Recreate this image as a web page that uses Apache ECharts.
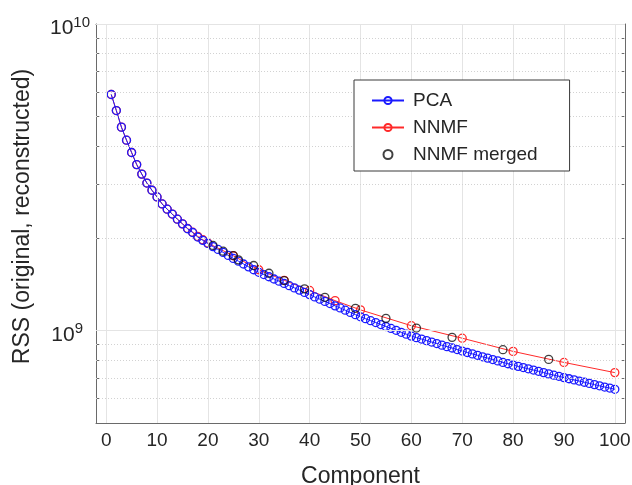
<!DOCTYPE html>
<html>
<head>
<meta charset="utf-8">
<script src="https://cdn.jsdelivr.net/npm/echarts@6/dist/echarts.min.js"></script>
<style>
  html, body { margin: 0; padding: 0; background: #fff; }
  #chart { width: 632px; height: 485px; }
</style>
</head>
<body>
<div id="chart"></div>
<script>
// ---- data ----
var pcaRSS = [
  5.89e9, 5.22e9, 4.61e9, 4.18e9, 3.81e9, 3.48e9, 3.24e9, 3.03e9, 2.87e9, 2.73e9,
  2.59e9, 2.49e9, 2.40e9, 2.31e9, 2.23e9, 2.15e9, 2.09e9, 2.02e9, 1.97e9, 1.925e9,
  1.88e9, 1.84e9, 1.80e9, 1.76e9, 1.72e9, 1.685e9, 1.65e9, 1.615e9, 1.58e9, 1.55e9,
  1.524e9, 1.499e9, 1.474e9, 1.45e9, 1.426e9, 1.402e9, 1.379e9, 1.356e9, 1.333e9, 1.311e9,
  1.288e9, 1.267e9, 1.246e9, 1.226e9, 1.205e9, 1.186e9, 1.166e9, 1.147e9, 1.128e9, 1.11e9,
  1.094e9, 1.078e9, 1.063e9, 1.047e9, 1.032e9, 1.017e9, 1.003e9, 9.88e8, 9.74e8, 9.60e8,
  9.49e8, 9.39e8, 9.28e8, 9.18e8, 9.08e8, 8.97e8, 8.87e8, 8.78e8, 8.68e8, 8.58e8,
  8.49e8, 8.40e8, 8.31e8, 8.22e8, 8.14e8, 8.05e8, 7.97e8, 7.88e8, 7.80e8, 7.72e8,
  7.65e8, 7.58e8, 7.51e8, 7.44e8, 7.37e8, 7.30e8, 7.23e8, 7.16e8, 7.10e8, 7.03e8,
  6.97e8, 6.91e8, 6.85e8, 6.79e8, 6.73e8, 6.67e8, 6.61e8, 6.55e8, 6.50e8, 6.44e8
];
var nnmfComp = [1,2,3,4,5,6,7,8,9,10,11,12,13,14,15,16,17,18,19,20,25,30,35,40,45,50,60,70,80,90,100];
var nnmfRSS = [
  5.89e9, 5.22e9, 4.61e9, 4.18e9, 3.81e9, 3.48e9, 3.24e9, 3.03e9, 2.87e9, 2.73e9,
  2.59e9, 2.49e9, 2.40e9, 2.31e9, 2.23e9, 2.155e9, 2.095e9, 2.03e9, 1.98e9, 1.93e9,
  1.755e9, 1.58e9, 1.46e9, 1.353e9, 1.253e9, 1.169e9, 1.038e9, 9.45e8, 8.56e8, 7.88e8, 7.30e8
];
var mergedComp = [21, 23, 25, 26, 29, 32, 35, 39, 43, 49, 55, 61, 68, 78, 87];
var mergedRSS = [1.896e9, 1.816e9, 1.758e9, 1.702e9, 1.631e9, 1.539e9, 1.457e9, 1.369e9,
                 1.285e9, 1.183e9, 1.097e9, 1.020e9, 9.51e8, 8.67e8, 8.06e8];
var xTicks = [0, 10, 20, 30, 40, 50, 60, 70, 80, 90, 100];
var yMajorTicks = [1e9, 1e10];
var yMinorTicks = [6e8, 7e8, 8e8, 9e8, 2e9, 3e9, 4e9, 5e9, 6e9, 7e9, 8e9, 9e9];
var seriesNames = ['PCA', 'NNMF', 'NNMF merged'];

// ---- chart ----
var FONT = "'Liberation Sans', Arial, Helvetica, sans-serif";
var AXIS_COLOR = '#6a6a6a';
var TEXT_COLOR = '#262626';
var allYTicks = yMinorTicks.concat(yMajorTicks, [5e8]).sort(function (a, b) { return a - b; });

var chart = echarts.init(document.getElementById('chart'), null, { renderer: 'canvas' });

function zipPairs(xs, ys) { return xs.map(function (x, i) { return [x, ys[i]]; }); }

var gridLines = [];
xTicks.forEach(function (v) { gridLines.push({ xAxis: v, lineStyle: { color: '#e4e4e4', type: 'solid', width: 1 } }); });
yMajorTicks.forEach(function (v) { gridLines.push({ yAxis: v, lineStyle: { color: '#e4e4e4', type: 'solid', width: 1 } }); });
yMinorTicks.forEach(function (v) { gridLines.push({ yAxis: v, lineStyle: { color: '#d2d2d2', type: [1, 2], width: 1 } }); });

var option = {
  animation: false,
  backgroundColor: '#ffffff',
  textStyle: { fontFamily: FONT },
  grid: { left: 96, top: 24, right: 7, bottom: 62, containLabel: false, outerBoundsMode: 'none' },
  legend: {
    data: seriesNames,
    orient: 'vertical',
    left: 354, top: 80,
    itemWidth: 32, itemHeight: 9, itemGap: 8,
    padding: [11, 32, 7, 17],
    backgroundColor: '#ffffff',
    borderColor: '#3a3a3a', borderWidth: 1, borderRadius: 0,
    textStyle: { fontSize: 19, color: TEXT_COLOR, fontFamily: FONT, padding: [0, 0, 0, 4] },
    z: 10
  },
  xAxis: [{
    type: 'value', min: -2, max: 102, position: 'bottom',
    name: 'Component', nameLocation: 'middle', nameGap: 42,
    nameTextStyle: { fontSize: 23, color: TEXT_COLOR, fontFamily: FONT },
    axisLine: { show: true, onZero: false, lineStyle: { color: AXIS_COLOR, width: 1 } },
    axisTick: { show: true, inside: true, length: 5, customValues: xTicks, lineStyle: { color: AXIS_COLOR } },
    axisLabel: { show: true, customValues: xTicks, margin: 8, fontSize: 19, color: TEXT_COLOR, fontFamily: FONT },
    splitLine: { show: false }
  }, {
    type: 'value', min: -2, max: 102, position: 'top',
    axisLine: { show: true, onZero: false, lineStyle: { color: AXIS_COLOR, width: 1 } },
    axisTick: { show: true, inside: true, length: 5, customValues: xTicks, lineStyle: { color: AXIS_COLOR } },
    axisLabel: { show: false },
    splitLine: { show: false }
  }],
  yAxis: [{
    type: 'log', logBase: 10, min: 5e8, max: 1e10, position: 'left',
    name: 'RSS (original, reconstructed)', nameLocation: 'middle', nameGap: 62,
    nameTextStyle: { fontSize: 23, color: TEXT_COLOR, fontFamily: FONT, padding: [0, 0, 0, 14] },
    axisLine: { show: true, onZero: false, lineStyle: { color: AXIS_COLOR, width: 1 } },
    axisTick: { show: true, inside: true, length: 4, customValues: allYTicks, lineStyle: { color: AXIS_COLOR } },
    axisLabel: {
      show: true, customValues: yMajorTicks, margin: 6, color: TEXT_COLOR, fontFamily: FONT,
      padding: [6, 0, 0, 0],
      formatter: function (val) {
        var e = Math.round(Math.log(val) / Math.LN10);
        return '{b|10}' + (e < 10 ? '{s1|' : '{s|') + e + '}';
      },
      rich: {
        b: { fontSize: 21, color: TEXT_COLOR, fontFamily: FONT, lineHeight: 24, verticalAlign: 'bottom' },
        s: { fontSize: 15, color: TEXT_COLOR, fontFamily: FONT, lineHeight: 17, verticalAlign: 'top' },
        s1: { fontSize: 15, color: TEXT_COLOR, fontFamily: FONT, lineHeight: 17, verticalAlign: 'top', padding: [0, 7, 0, 0] }
      }
    },
    splitLine: { show: false }
  }, {
    type: 'log', logBase: 10, min: 5e8, max: 1e10, position: 'right',
    axisLine: { show: true, onZero: false, lineStyle: { color: AXIS_COLOR, width: 1 } },
    axisTick: { show: true, inside: true, length: 4, customValues: allYTicks, lineStyle: { color: AXIS_COLOR } },
    axisLabel: { show: false },
    splitLine: { show: false }
  }],
  series: [{
    name: 'gridlines', type: 'line', data: [], z: 0, silent: true,
    markLine: { silent: true, symbol: ['none', 'none'], label: { show: false }, animation: false, data: gridLines }
  }, {
    name: 'NNMF', type: 'line', z: 3,
    data: zipPairs(nnmfComp, nnmfRSS),
    symbol: 'circle', symbolSize: 8,
    itemStyle: { color: 'rgba(255,255,255,0)', borderColor: '#ff2a2a', borderWidth: 1.3 },
    lineStyle: { color: '#ff2a2a', width: 1 },
    emphasis: { disabled: true }
  }, {
    name: 'PCA', type: 'line', z: 4,
    data: pcaRSS.map(function (v, i) { return [i + 1, v]; }),
    symbol: 'circle', symbolSize: 8,
    itemStyle: { color: 'rgba(255,255,255,0)', borderColor: '#1a1aff', borderWidth: 1.3 },
    lineStyle: { color: '#1a1aff', width: 1 },
    emphasis: { disabled: true }
  }, {
    name: 'NNMF merged', type: 'scatter', z: 5,
    data: zipPairs(mergedComp, mergedRSS),
    symbol: 'circle', symbolSize: 8,
    itemStyle: { color: 'rgba(255,255,255,0)', borderColor: '#111111', borderWidth: 1.3 },
    emphasis: { disabled: true }
  }]
};
chart.setOption(option);
</script>
</body>
</html>
